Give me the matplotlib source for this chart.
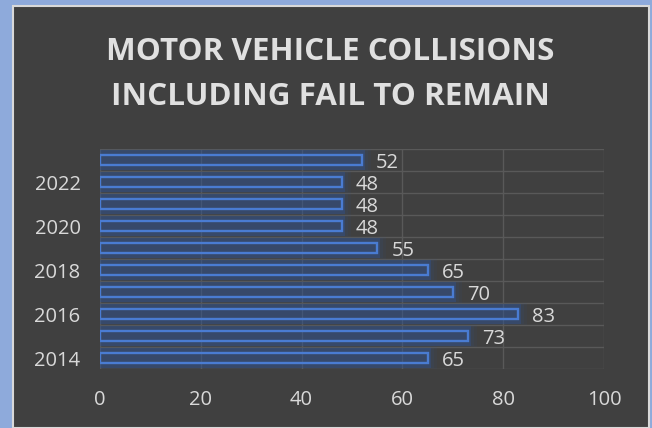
import numpy as np
import matplotlib.pyplot as plt
from matplotlib.patches import Rectangle

# data
years = [2014, 2015, 2016, 2017, 2018, 2019, 2020, 2021, 2022, 2023]
collisions = [65, 73, 83, 70, 65, 55, 48, 48, 48, 52]
tick_years = ["2014", "2016", "2018", "2020", "2022"]

# style
bg = "#404040"
txt = "#D9D9D9"
grid_col = "#595959"
bar_col = "#4472C4"
glow_col = "#2F5597"
plt.rcParams['font.family'] = ['Open Sans', 'DejaVu Sans']

fig = plt.figure(figsize=(6.52, 4.28), dpi=100, facecolor="#8EAADB")
# dark chart panel with light border
fig.patches.append(Rectangle((13/652, 0), 636/652, 1-6/428, transform=fig.transFigure,
                             facecolor=bg, edgecolor="#D9D9D9", linewidth=1.5, zorder=-5))

ax = fig.add_axes([100/652, 1-369/428, 504/652, 220/428])
ax.set_facecolor("none")

pos = np.arange(len(years))
vals = np.array(collisions)

# soft glow around bars
ax.barh(pos, vals + 0.6, height=0.9, color=glow_col, alpha=0.38, linewidth=0, zorder=2)
for h, extra, a in [(1.0, 1.8, 0.08), (0.95, 1.2, 0.1)]:
    ax.barh(pos, vals + extra, height=h, color=glow_col, alpha=a, linewidth=0, zorder=2)
ax.barh(pos, vals, height=0.42, facecolor="none", edgecolor="#4A7CD2", linewidth=1.7, zorder=3)

for p, v in zip(pos, vals):
    ax.text(v + 2.8, p - 0.12, str(v), color=txt, fontsize=14.5, va="center", ha="left", zorder=4)

ax.set_xlim(0, 100)
ax.set_ylim(-0.5, len(years) - 0.5)
ax.set_xticks(np.arange(0, 101, 20))
ax.set_yticks(pos[::2])
ax.set_yticklabels(tick_years)
ax.set_yticks(np.arange(-0.5, len(years), 1), minor=True)
ax.grid(axis="x", which="major", color=grid_col, linewidth=1, zorder=1)
ax.grid(axis="y", which="minor", color=grid_col, linewidth=1, zorder=1)
ax.tick_params(axis="both", which="both", length=0, colors=txt, labelsize=14.5)
ax.tick_params(axis="x", pad=15)
ax.tick_params(axis="y", pad=14)
for s in ax.spines.values():
    s.set_visible(False)

title_lines = ["MOTOR VEHICLE COLLISIONS", "INCLUDING FAIL TO REMAIN"]
for i, line in enumerate(title_lines):
    fig.text(330/652, 1-(52 + 45*i)/428, line, color="#E0E0E0",
             fontsize=22.6, fontweight="bold", ha="center", va="center")

fig.savefig("out.png", dpi=100, facecolor=fig.get_facecolor())
